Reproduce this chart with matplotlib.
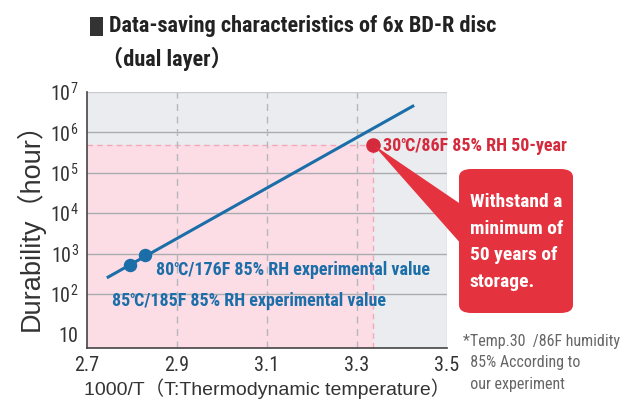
import numpy as np
import matplotlib.pyplot as plt
from matplotlib.patches import FancyBboxPatch, Polygon, Rectangle

# --- data ---
line_x = [2.747, 3.424]          # 1000/T
line_y = [266, 4.47e6]           # hours
exp_x = [2.796, 2.829]           # 85C, 80C
exp_y = [531, 944]
exp_labels = ["85℃/185F 85% RH experimental value",
              "80℃/176F 85% RH experimental value"]
target_x = 3.336
target_y = 5.0e5
target_label = "30℃/86F 85% RH 50-year"
x_ticks = [2.7, 2.9, 3.1, 3.3, 3.5]
y_ticks = [10, 1e2, 1e3, 1e4, 1e5, 1e6, 1e7]
y_ticklabels = ["10", "$10^2$", "$10^3$", "$10^4$", "$10^5$", "$10^6$", "$10^7$"]

BLUE = "#1b6ea8"
RED = "#d42a3c"
NARROW = ["Roboto Condensed", "Noto Sans CJK JP", "DejaVu Sans"]
REG = ["Liberation Sans", "Noto Sans CJK JP", "DejaVu Sans"]
plt.rcParams["mathtext.fontset"] = "custom"
plt.rcParams["mathtext.rm"] = "Roboto Condensed"

fig = plt.figure(figsize=(6.27, 4.01), dpi=100)
ax = fig.add_axes([87/627, 53/401, 360/627, 256/401])
ax.set_xlim(2.7, 3.5)
ax.set_yscale("log")
ax.set_ylim(4.7, 1e7)
ax.set_facecolor("#eaecef")

# pink safe region and its dashed border
ax.add_patch(Rectangle((2.7, 4.7), target_x - 2.7, target_y - 4.7,
                       facecolor="#fcdde6", edgecolor="none", zorder=0.5))
ax.plot([2.7, target_x], [target_y, target_y], ls=(0, (4, 3)), color="#f2a7bd", lw=1, zorder=1)
ax.plot([target_x, target_x], [4.7, target_y], ls=(0, (4, 3)), color="#f2a7bd", lw=1, zorder=1)

# grid
for yv in y_ticks[1:-1]:
    ax.axhline(yv, color="#a9abae", lw=1, zorder=1)
for xv in x_ticks[1:-1]:
    ax.axvline(xv, color="#b5b7ba", lw=1, ls=(0, (5, 4)), zorder=1)
ax.axvline(3.5, color="#c8cacd", lw=1, zorder=1)
ax.axhline(1e7, color="#c8cacd", lw=1, zorder=1)

for s in ["top", "right"]:
    ax.spines[s].set_visible(False)
for s in ["left", "bottom"]:
    ax.spines[s].set_color("#444444")
    ax.spines[s].set_linewidth(1.2)

ax.plot(line_x, line_y, color=BLUE, lw=2.2, zorder=3)
ax.scatter(exp_x, exp_y, s=75, color=BLUE, zorder=4)
ax.scatter([target_x], [target_y], s=90, color=RED, zorder=4)

ax.set_xticks(x_ticks)
ax.set_xticklabels([f"{v:.1f}" for v in x_ticks], family=NARROW, fontsize=14.5, color="#333333")
ax.set_yticks(y_ticks)
ax.set_yticklabels(y_ticklabels, family=NARROW, fontsize=14.5, color="#333333")
ax.minorticks_off()
ax.tick_params(length=0, pad=6)

ax.set_xlabel("1000/T（T:Thermodynamic temperature）", family=REG, fontsize=14,
              color="#333333", labelpad=2)
ax.set_ylabel("Durability（hour）", family=REG, fontsize=19.5, color="#333333", labelpad=4)

ax.annotate(exp_labels[1], (exp_x[1], exp_y[1]), xytext=(8, -11), textcoords="offset points",
            color=BLUE, fontsize=13, fontweight="bold", family=NARROW, va="center", zorder=5)
ax.annotate(exp_labels[0], (exp_x[0], exp_y[0]), xytext=(-13, -26), textcoords="offset points",
            color=BLUE, fontsize=13, fontweight="bold", family=NARROW, va="center", zorder=5)
ax.annotate(target_label, (target_x, target_y), xytext=(7, -1), textcoords="offset points",
            color=RED, fontsize=13, fontweight="bold", family=NARROW, va="center", zorder=5)

# red callout box (figure pixel coords)
W, H = 627, 401
box = FancyBboxPatch((459/W, (H - 313)/H), 114/W, 144/H,
                     boxstyle="round,pad=0,rounding_size=0.02",
                     transform=fig.transFigure, facecolor="#e5323f", edgecolor="none")
fig.patches.append(box)
px, py = ax.transData.transform((target_x, target_y))
ptr = Polygon([(px / W, py / H), (462/W, (H - 205)/H), (462/W, (H - 245)/H)],
              closed=True, transform=fig.transFigure, facecolor="#e5323f", edgecolor="none")
fig.patches.append(ptr)
fig.text(470/W, (H - 242)/H, "Withstand a\nminimum of\n50 years of\nstorage.",
         color="white", fontsize=14, fontweight="bold", family=NARROW,
         ha="left", va="center", linespacing=1.6)

fig.text(463/W, (H - 363)/H, "*Temp.30  /86F humidity\n  85% According to\n  our experiment",
         color="#666666", fontsize=11.5, family=NARROW, ha="left", va="center", linespacing=1.55)

# title
fig.patches.append(Rectangle((90/W, (H - 36)/H), 13/W, 19/H, transform=fig.transFigure,
                             facecolor="#333333", edgecolor="none"))
fig.text(109/W, (H - 26)/H, "Data-saving characteristics of 6x BD-R disc",
         fontsize=16, fontweight="bold", family=NARROW, color="#222222", va="center")
fig.text(101/W, (H - 59)/H, "（dual layer）",
         fontsize=16, fontweight="bold", family=NARROW, color="#222222", va="center")

fig.savefig("out.png", dpi=100)
